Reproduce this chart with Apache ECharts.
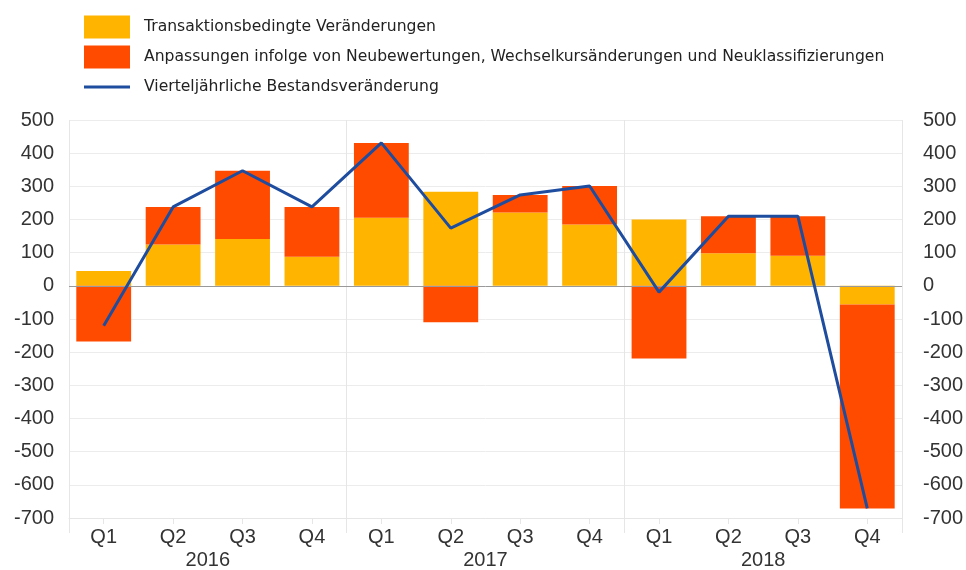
<!DOCTYPE html>
<html>
<head>
<meta charset="utf-8">
<script src="https://cdn.jsdelivr.net/npm/echarts@6/dist/echarts.min.js"></script>
<style>html,body{margin:0;padding:0;background:#fff}#c{width:966px;height:570px}</style>
</head>
<body>
<div id="c"></div>
<script>
var quarters = ['Q1','Q2','Q3','Q4','Q1','Q2','Q3','Q4','Q1','Q2','Q3','Q4'];
var years = ['2016','2017','2018'];
var transaktionen = [45, 125, 141, 88, 205, 284, 221, 185, 200, 98, 91, -56];
var anpassungen = [-168, 113, 206, 150, 226, -110, 53, 116, -219, 112, 119, -615];
var bestand = [-120, 238, 347, 238, 431, 174, 274, 301, -19, 210, 210, -671];
var seriesNames = ['Transaktionsbedingte Veränderungen',
  'Anpassungen infolge von Neubewertungen, Wechselkursänderungen und Neuklassifizierungen',
  'Vierteljährliche Bestandsveränderung'];

var FONT = 'Liberation Sans, Arial, sans-serif';
var chart = echarts.init(document.getElementById('c'), null, {renderer:'canvas'});
var yAxisBase = {
  type:'value', min:-700, max:500, interval:100,
  axisLine:{show:false}, axisTick:{show:false},
  axisLabel:{fontSize:20, color:'#333', fontFamily:FONT}
};
chart.setOption({
  animation:false,
  backgroundColor:'#fff',
  textStyle:{fontFamily:FONT},
  legend:{
    orient:'vertical', left:84, top:12, padding:0, itemWidth:46, itemHeight:23, itemGap:0,
    symbolKeepAspect:true,
    textStyle:{fontSize:15.6, lineHeight:18, color:'#222', fontFamily:'DejaVu Sans, sans-serif', padding:[0,0,12,9]},
    data:[
      {name:seriesNames[0], icon:'rect'},
      {name:seriesNames[1], icon:'rect'},
      {name:seriesNames[2], icon:'path://M0,0L46,0L46,3L0,3Z', itemStyle:{color:'#1E4C9E', borderWidth:0}}
    ]
  },
  grid:{left:69, right:61, top:120, bottom:52, containLabel:false},
  xAxis:[
    {type:'category', data:quarters, position:'bottom',
     axisLine:{show:true, onZero:false, lineStyle:{color:'#e6e6e6'}},
     axisTick:{show:true, alignWithLabel:true, length:6, lineStyle:{color:'#e6e6e6'}},
     axisLabel:{fontSize:20, color:'#333', margin:9, fontFamily:FONT},
     splitLine:{show:false}},
    {type:'category', data:years, position:'bottom',
     axisLine:{show:false, onZero:false},
     axisTick:{show:true, length:15, lineStyle:{color:'#e6e6e6'}},
     axisLabel:{fontSize:20, color:'#333', margin:32, fontFamily:FONT},
     splitLine:{show:true, lineStyle:{color:'#e6e6e6'}}}
  ],
  yAxis:[
    Object.assign({}, yAxisBase, {position:'left', axisLabel:Object.assign({}, yAxisBase.axisLabel, {margin:15}),
      splitLine:{show:true, lineStyle:{color:'#ececec'}}}),
    Object.assign({}, yAxisBase, {position:'right', axisLabel:Object.assign({}, yAxisBase.axisLabel, {margin:21}),
      splitLine:{show:false}})
  ],
  series:[
    {name:seriesNames[0], type:'bar', stack:'total', data:transaktionen, barCategoryGap:'21%',
     itemStyle:{color:'#FFB400'},
     markLine:{silent:true, symbol:'none', label:{show:false},
       lineStyle:{color:'#999', width:1, type:'solid'}, data:[{yAxis:0}]}},
    {name:seriesNames[1], type:'bar', stack:'total', data:anpassungen, barCategoryGap:'21%',
     itemStyle:{color:'#FF4B00'}},
    {name:seriesNames[2], type:'line', data:bestand, symbol:'none', showSymbol:false, z:5,
     lineStyle:{color:'#1E4C9E', width:3}, itemStyle:{color:'#1E4C9E'}}
  ]
});
</script>
</body>
</html>
